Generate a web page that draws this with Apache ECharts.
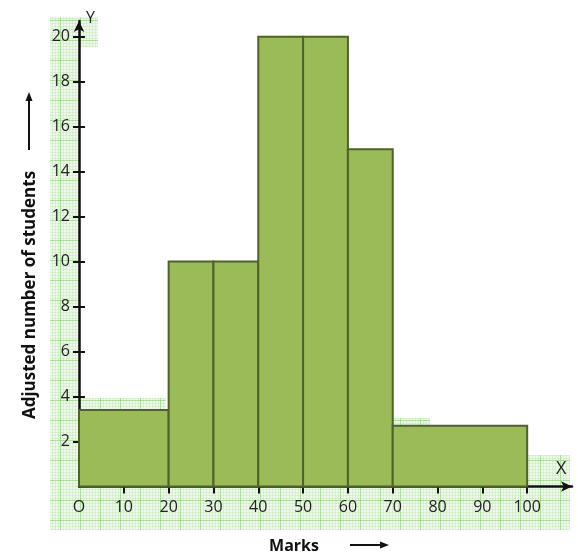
<!DOCTYPE html>
<html>
<head>
<meta charset="utf-8">
<script src="https://cdn.jsdelivr.net/npm/echarts@6/dist/echarts.min.js"></script>
<style>html,body{margin:0;padding:0;background:#fff;}#c{width:578px;height:558px;}</style>
</head>
<body>
<div id="c"></div>
<script>
// Class intervals (marks) and adjusted frequencies
const binStart = [0, 20, 30, 40, 50, 60, 70];
const binEnd   = [20, 30, 40, 50, 60, 70, 100];
const heights  = [3.4, 10, 10, 20, 20, 15, 2.7];
const xTickValues = [0, 10, 20, 30, 40, 50, 60, 70, 80, 90, 100];
const yTickValues = [2, 4, 6, 8, 10, 12, 14, 16, 18, 20];
const yTitle = 'Adjusted number of students';
const xTitle = 'Marks';

// graph-paper pattern
const pc = document.createElement('canvas');
pc.width = 20; pc.height = 20;
const g = pc.getContext('2d');
g.fillStyle = '#eff9eb'; g.fillRect(0, 0, 20, 20);
g.strokeStyle = 'rgba(150,210,130,0.22)'; g.lineWidth = 1;
for (let i = 0; i < 20; i += 3) {
  g.beginPath(); g.moveTo(i + 0.5, 0); g.lineTo(i + 0.5, 20); g.stroke();
  g.beginPath(); g.moveTo(0, i + 0.5); g.lineTo(20, i + 0.5); g.stroke();
}
g.strokeStyle = 'rgba(130,205,105,0.5)';
g.beginPath(); g.moveTo(0.5, 0); g.lineTo(0.5, 20); g.stroke();
g.beginPath(); g.moveTo(0, 0.5); g.lineTo(20, 0.5); g.stroke();
const paper = { image: pc, repeat: 'repeat' };

const chart = echarts.init(document.getElementById('c'), null, { renderer: 'canvas' });
const font = '"Open Sans", "Liberation Sans", sans-serif';

const barData = binStart.map((s, i) => [s, binEnd[i], heights[i]]);

chart.setOption({
  animation: false,
  backgroundColor: '#fff',
  grid: { left: 79, right: 6, top: 21, bottom: 71.5 },
  xAxis: {
    type: 'value', min: 0, max: 110,
    axisLine: { show: true, symbol: ['none', 'arrow'], symbolSize: [8, 11], lineStyle: { color: '#111', width: 2.5 } },
    axisTick: { show: true, customValues: xTickValues.slice(1), length: 7, lineStyle: { color: '#111', width: 2 } },
    axisLabel: {
      customValues: xTickValues, margin: 13, fontSize: 16, color: '#222', fontFamily: font,
      formatter: v => v === 0 ? 'O' : String(v)
    },
    splitLine: { show: false }
  },
  yAxis: [{
    type: 'value', min: 0, max: 20.7,
    axisLine: { show: true, symbol: ['none', 'arrow'], symbolSize: [8, 11], lineStyle: { color: '#111', width: 2.5 } },
    axisTick: { show: true, customValues: yTickValues, length: 6, lineStyle: { color: '#111', width: 2 } },
    axisLabel: { customValues: yTickValues, margin: 9, fontSize: 16, color: '#222', fontFamily: font },
    splitLine: { show: false }
  }, {
    type: 'value', min: 0, max: 20.7, position: 'left',
    axisLine: { show: false },
    axisTick: { show: true, inside: true, customValues: yTickValues, length: 6, lineStyle: { color: '#111', width: 2 } },
    axisLabel: { show: false },
    splitLine: { show: false }
  }],
  graphic: [
    { type: 'rect', z: -10, silent: true, shape: { x: 50, y: 17, width: 30, height: 513 }, style: { fill: paper } },
    { type: 'rect', z: -10, silent: true, shape: { x: 78, y: 17, width: 20, height: 30 }, style: { fill: paper } },
    { type: 'rect', z: -10, silent: true, shape: { x: 50, y: 486, width: 520, height: 44 }, style: { fill: paper } },
    { type: 'rect', z: -10, silent: true, shape: { x: 528, y: 455, width: 42, height: 32 }, style: { fill: paper } },
    { type: 'rect', z: -10, silent: true, shape: { x: 80, y: 398, width: 86, height: 12 }, style: { fill: paper } },
    { type: 'rect', z: -10, silent: true, shape: { x: 390, y: 418, width: 40, height: 8 }, style: { fill: paper } },
    { type: 'text', z: 10, left: 86, top: 10, style: { text: 'Y', fontSize: 16, fill: '#222', fontFamily: font } },
    { type: 'text', z: 10, left: 556, top: 460, style: { text: 'X', fontSize: 18, fill: '#222', fontFamily: font } },
    { type: 'text', z: 10, x: 30, y: 295, rotation: Math.PI / 2,
      style: { text: yTitle, fontSize: 17, fontWeight: 'bold', fill: '#111', fontFamily: font, align: 'center', verticalAlign: 'middle' } },
    { type: 'line', z: 10, shape: { x1: 29, y1: 150, x2: 29, y2: 98 }, style: { stroke: '#111', lineWidth: 2 } },
    { type: 'polygon', z: 10, shape: { points: [[29, 92], [25.5, 101], [32.5, 101]] }, style: { fill: '#111' } },
    { type: 'text', z: 10, x: 294, y: 546,
      style: { text: xTitle, fontSize: 16, fontWeight: 'bold', fill: '#111', fontFamily: font, align: 'center', verticalAlign: 'middle' } },
    { type: 'line', z: 10, shape: { x1: 350, y1: 545, x2: 382, y2: 545 }, style: { stroke: '#111', lineWidth: 2 } },
    { type: 'polygon', z: 10, shape: { points: [[389, 545], [380, 541.5], [380, 548.5]] }, style: { fill: '#111' } }
  ],
  series: [{
    type: 'custom',
    data: barData,
    encode: { x: [0, 1], y: 2 },
    renderItem: function (params, api) {
      const p0 = api.coord([api.value(0), api.value(2)]);
      const p1 = api.coord([api.value(1), 0]);
      return {
        type: 'rect',
        shape: { x: p0[0], y: p0[1], width: p1[0] - p0[0], height: p1[1] - p0[1] },
        style: { fill: '#9bbb59', stroke: '#4f6228', lineWidth: 2 }
      };
    }
  }]
});
</script>
</body>
</html>
